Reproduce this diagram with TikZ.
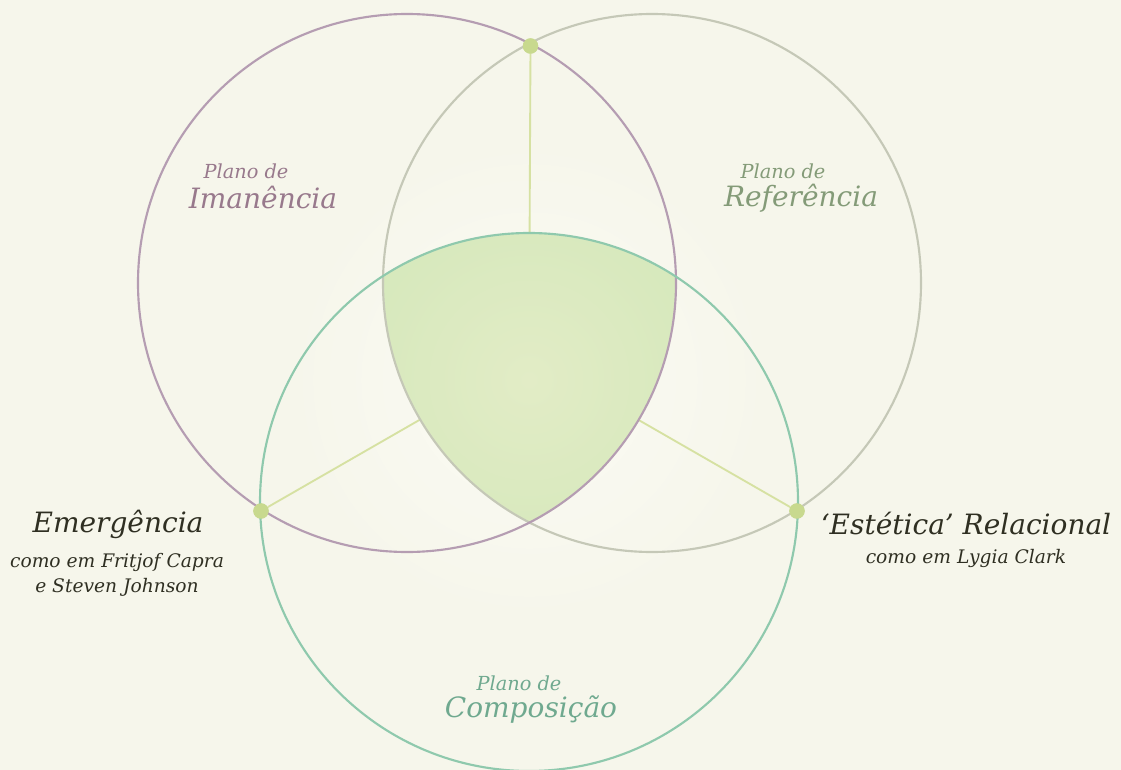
\documentclass[tikz,border=0pt]{standalone}
\usepackage{fontspec}
\setmainfont{DejaVu Serif}
\definecolor{bg}{HTML}{F6F6EB}
\definecolor{glow}{HTML}{FBFBF4}
\definecolor{cimm}{HTML}{B59DB2}
\definecolor{cref}{HTML}{C5C8B7}
\definecolor{ccomp}{HTML}{8FC9AD}
\definecolor{timm}{HTML}{98798C}
\definecolor{tref}{HTML}{849B78}
\definecolor{tcomp}{HTML}{6FA98F}
\definecolor{tdark}{HTML}{2F2F22}
\definecolor{dotc}{HTML}{C8D98E}
\definecolor{spoke}{HTML}{D6E1A2}
\definecolor{fillin}{HTML}{E2ECC6}
\definecolor{fillout}{HTML}{D5E8BB}
\tikzset{
  ring/.style={line width=1.6pt},
  dotnode/.style={circle,fill=dotc,inner sep=0pt,minimum size=11.5pt},
  spokeline/.style={draw=spoke,line width=1.4pt},
  smalllab/.style={font=\itshape\fontsize{14.5}{16}\selectfont,inner sep=0pt},
  biglab/.style={font=\itshape\fontsize{21}{24}\selectfont,inner sep=0pt},
  sublab/.style={font=\itshape\fontsize{14}{16}\selectfont,inner sep=0pt,text=tdark},
}
\begin{document}
\begin{tikzpicture}[x=0.75pt,y=-0.75pt]
\useasboundingbox (0,0) rectangle (1121,770);
\fill[bg] (0,0) rectangle (1121,770);
% glow
\shade[inner color=glow,middle color=glow,outer color=bg] (529,380) circle (240);
\fill[bg,even odd rule] (0,0) rectangle (1121,770) (529,380) circle (240);
% centres
\coordinate (cL) at (407,283);
\coordinate (cR) at (652,283);
\coordinate (cB) at (529,502);
\coordinate (mid) at (529,357);
% dots
\node[dotnode] (dT) at (530.5,46) {};
\node[dotnode] (dL) at (261,511) {};
\node[dotnode] (dR) at (797,511) {};
% spokes
\draw[spokeline] (dT) -- (mid);
\draw[spokeline] (dL) -- (mid);
\draw[spokeline] (dR) -- (mid);
% shaded intersection
\begin{scope}
  \clip (cL) circle (269);
  \clip (cR) circle (269);
  \clip (cB) circle (269);
  \shade[inner color=fillin,outer color=fillout] (529,380) circle (200);
\end{scope}
% circles
\draw[ring,draw=cref] (cR) circle (269);
\draw[ring,draw=cimm] (cL) circle (269);
\draw[ring,draw=ccomp] (cB) circle (269);
% redraw dots on top
\node[dotnode] at (dT) {};
\node[dotnode] at (dL) {};
\node[dotnode] at (dR) {};
% labels
\node[smalllab,text=timm] (pi) at (246,171) {Plano de};
\node[biglab,text=timm] (im) at (263,198) {Imanência};
\node[smalllab,text=tref] (pr) at (783,171) {Plano de};
\node[biglab,text=tref] (re) at (801,198) {Referência};
\node[smalllab,text=tcomp] (pc) at (519,683) {Plano de};
\node[biglab,text=tcomp] (co) at (531,710) {Composição};
\node[biglab,text=tdark] (em) at (118,524) {Emergência};
\node[sublab] (em1) at (117,562) {como em Fritjof Capra};
\node[sublab] (em2) at (117,587) {e Steven Johnson};
\node[biglab,text=tdark] (es) at (966,523) {‘Estética’ Relacional};
\node[sublab] (es1) at (966,558) {como em Lygia Clark};
\end{tikzpicture}
\end{document}
